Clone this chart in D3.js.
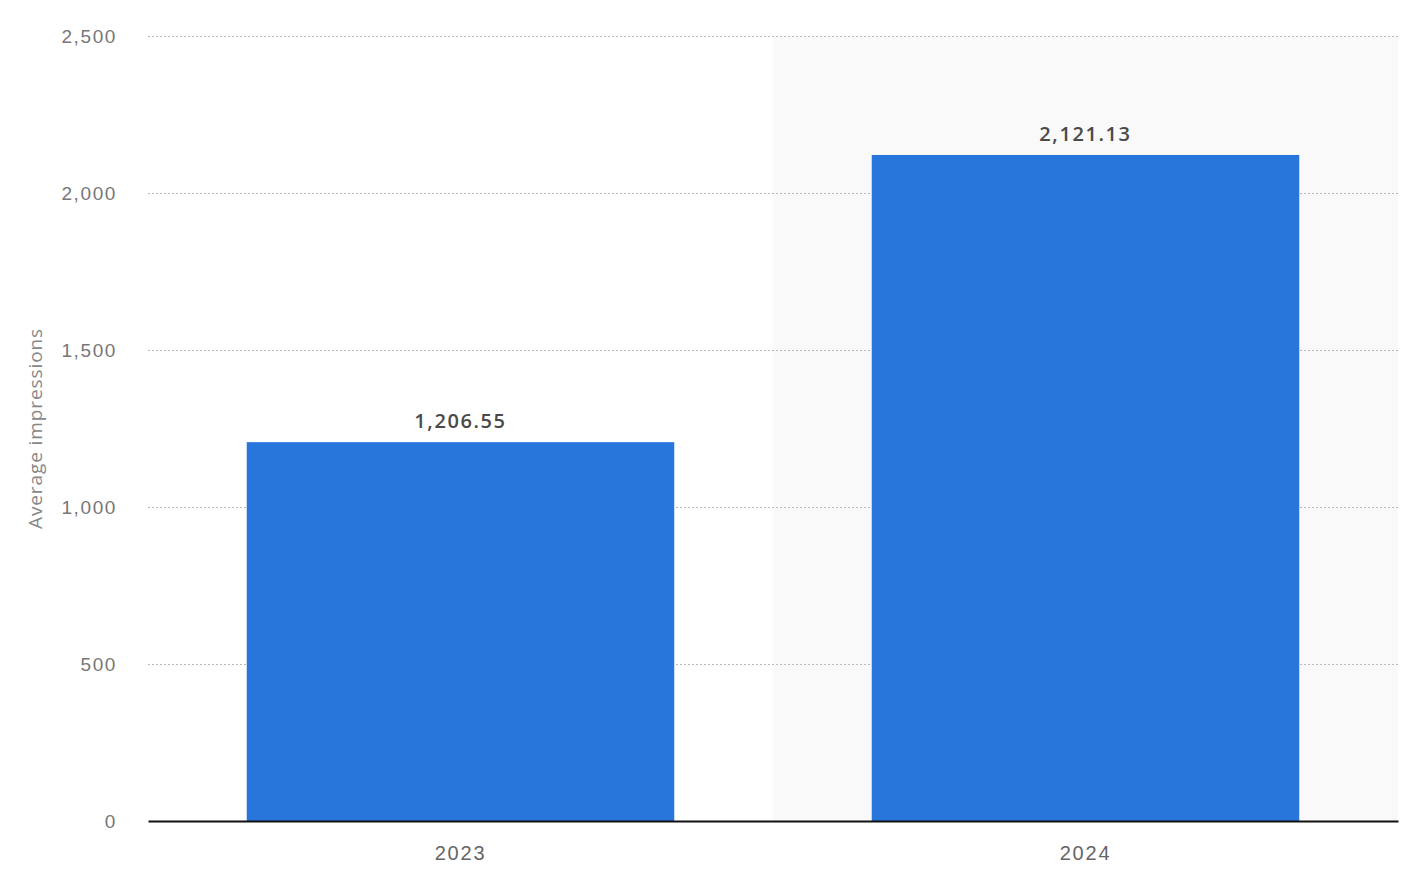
<!DOCTYPE html>
<html>
<head>
<meta charset="utf-8">
<script src="https://cdn.jsdelivr.net/npm/d3@7"></script>
<style>
  body { margin: 0; background: #fff; }
  svg { display: block; font-family: "Open Sans", sans-serif; }
</style>
</head>
<body>
<svg id="chart" width="1401" height="883"></svg>
<script>
// --- data ---
const years = ['2023', '2024'];
const impressions = [1206.55, 2121.13];
const yTicks = [0, 500, 1000, 1500, 2000, 2500];
const highlighted = '2024';

const width = 1401, height = 883;
const margin = { top: 36, right: 3, bottom: 62, left: 148 };
const innerW = width - margin.left - margin.right;
const innerH = height - margin.top - margin.bottom;

const svg = d3.select('#chart');
const g = svg.append('g').attr('transform', `translate(${margin.left},${margin.top})`);

const x = d3.scaleBand().domain(years).range([0, innerW]).paddingInner(0.316).paddingOuter(0.158);
const xBand = d3.scaleBand().domain(years).range([0, innerW]);
const y = d3.scaleLinear().domain([0, 2500]).range([innerH, 0]);

// hover-style band behind the second column
g.append('rect')
    .attr('x', xBand(highlighted))
    .attr('y', 0)
    .attr('width', xBand.bandwidth())
    .attr('height', innerH)
    .attr('fill', '#f9f9f9');

// grid lines + y labels
const yAxis = g.append('g')
    .call(d3.axisLeft(y).tickValues(yTicks).tickSize(-innerW).tickPadding(31).tickFormat(d3.format(',')));
yAxis.select('.domain').remove();
yAxis.selectAll('.tick line')
    .attr('stroke', '#bbb')
    .attr('stroke-width', 1)
    .attr('stroke-dasharray', '2,2');
yAxis.selectAll('.tick text')
    .attr('fill', '#777')
    .attr('font-size', 19)
    .attr('letter-spacing', '1.6px');
yAxis.selectAll('.tick').filter(d => d === 0).select('line').remove();

// bars
g.selectAll('.bar')
    .data(years)
    .join('rect')
    .attr('class', 'bar')
    .attr('x', d => x(d))
    .attr('y', (d, i) => y(impressions[i]))
    .attr('width', x.bandwidth())
    .attr('height', (d, i) => innerH - y(impressions[i]))
    .attr('fill', '#2876dc');

// value labels
g.selectAll('.val')
    .data(years)
    .join('text')
    .attr('class', 'val')
    .attr('x', d => x(d) + x.bandwidth() / 2)
    .attr('y', (d, i) => y(impressions[i]) - 14)
    .attr('text-anchor', 'middle')
    .attr('font-size', 20)
    .attr('font-weight', 600)
    .attr('letter-spacing', '1.6px')
    .attr('fill', '#4a4a4a')
    .text((d, i) => d3.format(',.2f')(impressions[i]));

// x axis
const xAxis = g.append('g')
    .attr('transform', `translate(0,${innerH})`)
    .call(d3.axisBottom(xBand).tickSize(0).tickPadding(25));
xAxis.select('.domain').attr('stroke', '#111').attr('stroke-width', 2);
xAxis.selectAll('.tick text')
    .attr('fill', '#666')
    .attr('font-size', 20)
    .attr('letter-spacing', '1.8px');

// axis title
svg.append('text')
    .attr('transform', `translate(42,${margin.top + y(1250)}) rotate(-90)`)
    .attr('text-anchor', 'middle')
    .attr('font-size', 19)
    .attr('letter-spacing', '0.9px')
    .attr('fill', '#888')
    .text('Average impressions');
</script>
</body>
</html>
